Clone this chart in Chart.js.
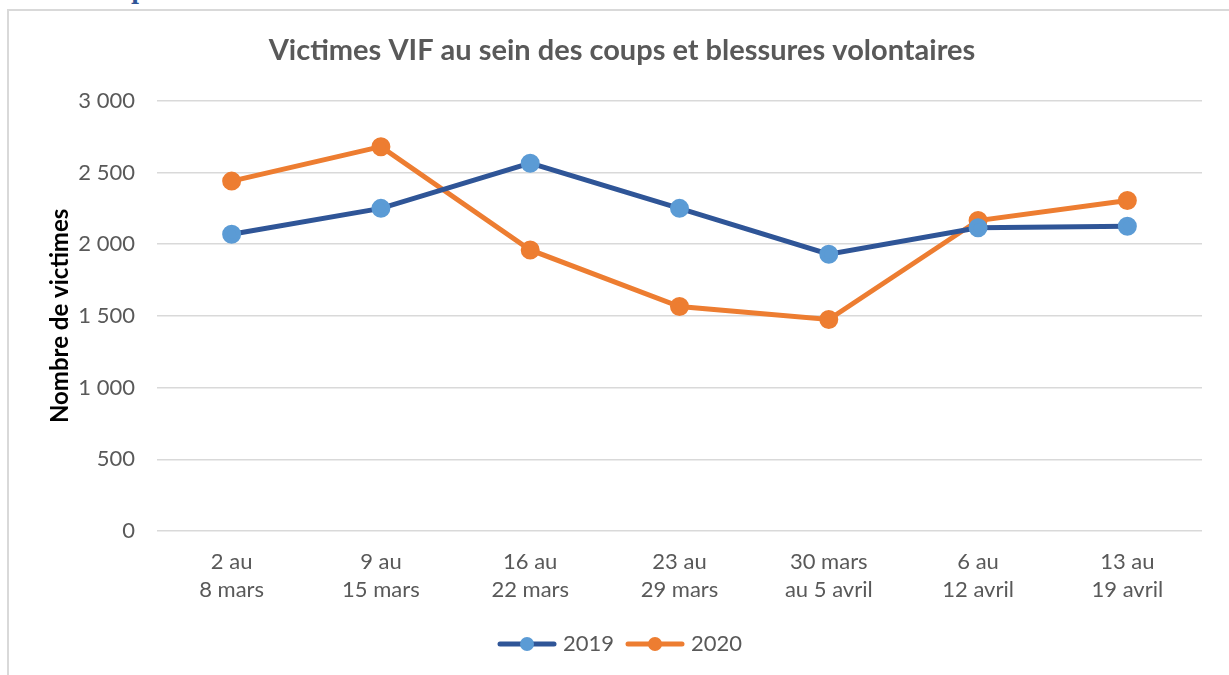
<!DOCTYPE html>
<html>
<head>
<meta charset="utf-8">
<script src="https://cdn.jsdelivr.net/npm/chart.js@4"></script>
<style>
  html, body { margin: 0; padding: 0; background: #fff; overflow: hidden; }
  #frame { position: absolute; left: 7px; top: 9px; width: 1300px; height: 700px;
           border-left: 2px solid #d9d9d9; border-top: 2px solid #d9d9d9; }
  #cut { position: absolute; left: 131px; top: -22px; font: bold 22px "DejaVu Serif"; color: #2F5597; }
  #wrap { position: absolute; left: 0; top: 0; width: 1229px; height: 675px; }
</style>
</head>
<body>
<div id="frame"></div>
<div id="cut">p</div>
<div id="wrap"><canvas id="chart"></canvas></div>
<script>
  const categories = [
    ['2 au', '8 mars'],
    ['9 au', '15 mars'],
    ['16 au', '22 mars'],
    ['23 au', '29 mars'],
    ['30 mars', 'au 5 avril'],
    ['6 au', '12 avril'],
    ['13 au', '19 avril']
  ];
  const values2019 = [2070, 2250, 2565, 2250, 1930, 2115, 2125];
  const values2020 = [2440, 2680, 1960, 1565, 1475, 2165, 2305];
  const yTicks = [0, 500, 1000, 1500, 2000, 2500, 3000];

  const font = 'Lato';
  const grey = '#595959';

  // legend marker: line with a dot in the middle
  function marker(lineColor, dotColor) {
    const c = document.createElement('canvas');
    c.width = 60; c.height = 16;
    const g = c.getContext('2d');
    g.strokeStyle = lineColor;
    g.lineWidth = 5;
    g.lineCap = 'round';
    g.beginPath(); g.moveTo(3, 8); g.lineTo(57, 8); g.stroke();
    g.fillStyle = dotColor;
    g.beginPath(); g.arc(30, 8, 7, 0, Math.PI * 2); g.fill();
    return c;
  }
  const markers = [marker('#2F5597', '#5B9BD5'), marker('#ED7D31', '#ED7D31')];

  const data = {
    labels: categories,
    datasets: [{
      label: '2019',
      data: values2019,
      borderColor: '#2F5597',
      backgroundColor: '#5B9BD5',
      pointBackgroundColor: '#5B9BD5',
      pointBorderColor: '#5B9BD5',
      borderWidth: 5,
      pointRadius: 7,
      tension: 0
    },
    {
      label: '2020',
      data: values2020,
      borderColor: '#ED7D31',
      backgroundColor: '#ED7D31',
      pointBackgroundColor: '#ED7D31',
      pointBorderColor: '#ED7D31',
      borderWidth: 5,
      pointRadius: 7,
      tension: 0
    }]
  };

  const config = {
    type: 'line',
    data: data,
    options: {
      responsive: true,
      maintainAspectRatio: false,
      animation: false,
      layout: { padding: { left: 42, right: 27, top: 0, bottom: 10 } },
      plugins: {
        title: {
          display: true,
          text: 'Victimes VIF au sein des coups et blessures volontaires',
          color: grey,
          font: { family: font, size: 29, weight: 'bold' },
          padding: { top: 33, bottom: 33 }
        },
        legend: {
          position: 'bottom',
          labels: {
            usePointStyle: true,
            pointStyleWidth: 50,
            color: grey,
            font: { family: font, size: 22 },
            padding: 16,
            generateLabels: (chart) => {
              const items = Chart.defaults.plugins.legend.labels.generateLabels(chart);
              items.forEach((it, i) => { it.pointStyle = markers[i]; });
              return items;
            }
          }
        },
        tooltip: { enabled: false }
      },
      scales: {
        x: {
          offset: true,
          afterFit: (scale) => { scale.height = 86; },
          grid: { display: false },
          border: { display: false },
          ticks: {
            color: grey,
            font: { family: font, size: 22, lineHeight: 1.27 },
            padding: 9,
            maxRotation: 0,
            autoSkip: false
          }
        },
        y: {
          min: 0,
          max: 3000,
          afterFit: (scale) => { scale.width = 115; },
          afterBuildTicks: (scale) => { scale.ticks = yTicks.map(v => ({ value: v })); },
          grid: { color: '#d9d9d9', lineWidth: 1.5, drawTicks: false },
          border: { display: false },
          ticks: {
            color: grey,
            font: { family: font, size: 22 },
            padding: 22,
            callback: (v) => v.toLocaleString('fr-FR').replace(/\s/g, ' ')
          },
          title: {
            display: true,
            text: 'Nombre de victimes',
            color: '#000',
            font: { family: font, size: 24, weight: 'bold' },
            padding: { top: 4 }
          }
        }
      }
    }
  };

  const myChart = new Chart(document.getElementById('chart'), config);
</script>
</body>
</html>
